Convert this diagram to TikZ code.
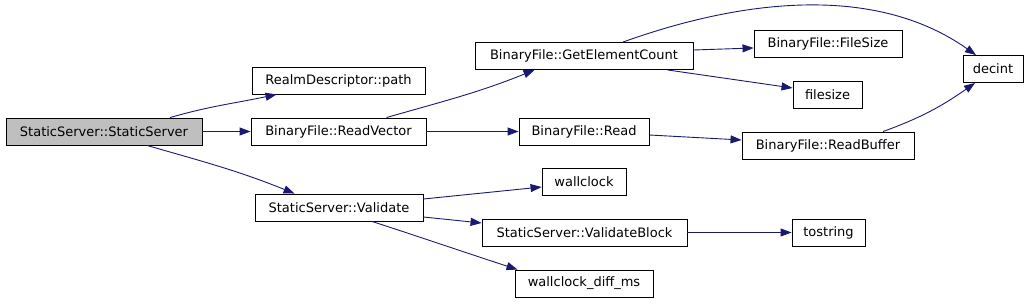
\documentclass[tikz,border=0pt]{standalone}
\usepackage{fontspec}
\setmainfont{DejaVu Sans}
\usetikzlibrary{calc,arrows.meta}
\definecolor{callblue}{RGB}{25,25,112}
\definecolor{rootgray}{RGB}{191,191,191}

\begin{document}
\begin{tikzpicture}[x=1pt,y=1pt,
  fn/.style={draw=black,line width=0.9pt,fill=white,minimum height=27pt,inner sep=0pt,font=\fontsize{13}{15}\selectfont},
  call/.style={draw=callblue,line width=0.9pt,-{Triangle[length=11pt,width=8pt]}}]
\useasboundingbox (0,0) rectangle (1032,-302);
\node[fn,fill=rootgray,minimum width=196pt] (ss) at (104,-131.5) {StaticServer::StaticServer};
\node[fn,minimum width=173pt] (path) at (338.5,-80.5) {RealmDescriptor::path};
\node[fn,minimum width=175pt] (rv) at (338.5,-131.5) {BinaryFile::ReadVector};
\node[fn,minimum width=168pt] (val) at (339,-207.5) {StaticServer::Validate};
\node[fn,minimum width=218pt] (gec) at (584,-56) {BinaryFile::GetElementCount};
\node[fn,minimum width=148pt] (fs) at (828,-43.5) {BinaryFile::FileSize};
\node[fn,minimum width=69pt] (fsz) at (827.5,-95) {filesize};
\node[fn,minimum width=60pt] (dec) at (993,-69) {decint};
\node[fn,minimum width=130pt] (rd) at (584,-131.5) {BinaryFile::Read};
\node[fn,minimum width=172pt] (rb) at (828,-145.5) {BinaryFile::ReadBuffer};
\node[fn,minimum width=84pt] (wc) at (584,-182) {wallclock};
\node[fn,minimum width=205pt] (vb) at (584.5,-232.5) {StaticServer::ValidateBlock};
\node[fn,minimum width=73pt] (ts) at (828.5,-232.5) {tostring};
\node[fn,minimum width=138pt] (wcd) at (584,-283.5) {wallclock\_diff\_ms};
\draw[call] ($(ss.north)+(66,0)$) to[out=16,in=192] ($(path.south west)+(25,0)$);
\draw[call] (ss.east) -- (rv.west);
\draw[call] ($(ss.south)+(43,0)$) to[out=-16,in=158] ($(val.north west)+(40,0)$);
\draw[call] ($(rv.north)+(48,0)$) to[out=16,in=202] ($(gec.south west)+(60,0)$);
\draw[call] (rv.east) -- (rd.west);
\draw[call] ($(gec.east)+(0,6)$) -- ($(fs.west)+(0,-4.5)$);
\draw[call] ($(gec.south east)+(-26,0)$) -- ($(fsz.west)+(0,7)$);
\draw[call] ($(gec.north)+(39,0)$) .. controls (740,0) and (874,17) .. ($(dec.north)+(-17,0)$);
\draw[call] ($(rd.east)+(0,-3.5)$) -- ($(rb.west)+(0,5.5)$);
\draw[call] ($(rb.north)+(55,0)$) to[out=20,in=215] ($(dec.south)+(-18,0)$);
\draw[call] ($(val.east)+(0,8.5)$) -- ($(wc.west)+(0,-5)$);
\draw[call] ($(val.east)+(0,-9.5)$) -- ($(vb.west)+(0,9.5)$);
\draw[call] ($(val.south)+(33,0)$) to[out=-18,in=162] ($(wcd.north west)+(3,0)$);
\draw[call] (vb.east) -- (ts.west);
\end{tikzpicture}
\end{document}
